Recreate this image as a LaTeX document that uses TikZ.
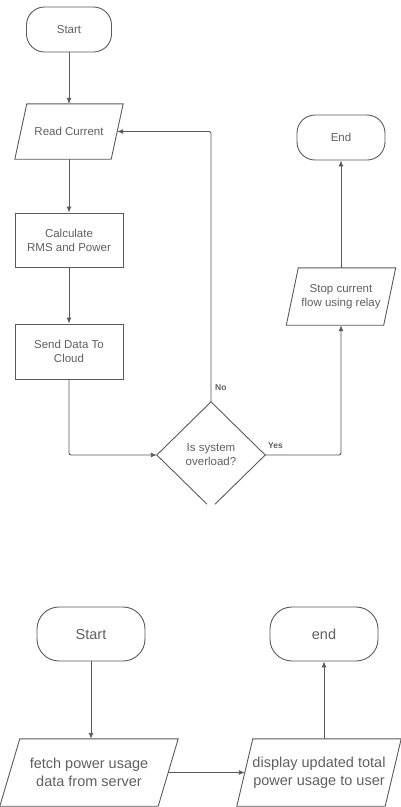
\documentclass[tikz,border=0pt]{standalone}
\usepackage{fontspec}
\setmainfont{Liberation Sans}
\usetikzlibrary{arrows.meta,shapes.geometric}
\definecolor{ink}{HTML}{5A5A5A}
\definecolor{txt}{HTML}{606060}
\begin{document}
\begin{tikzpicture}[x=1pt,y=-1pt,
  line/.style={draw=ink,line width=0.9pt},
  flow/.style={line,-{Latex[length=6pt,width=5pt]},rounded corners=2pt},
  upper/.style={font=\fontsize{11.5}{14}\selectfont,text=txt,align=center,inner sep=0pt},
  lower/.style={font=\fontsize{14.5}{18}\selectfont,text=txt,align=center,inner sep=0pt},
  terminal/.style={line,rectangle,rounded corners=18pt},
  procbox/.style={line,rectangle,minimum width=108pt},
  body/.style={rectangle,draw=none},
  tag/.style={font=\fontsize{8.5}{10}\bfseries\selectfont,text=txt,inner sep=0pt}]
\useasboundingbox[fill=white] (0,0) rectangle (400,807);

% ---- monitoring loop ----
\node[upper,terminal,minimum width=85pt,minimum height=45pt] (start) at (69,29.5) {Start};
\node[upper,body,minimum width=96pt,minimum height=55pt] (read) at (69,131.5) {Read Current};
\node[upper,procbox,minimum height=54pt] (calc) at (69,240) {Calculate\\RMS and Power};
\node[upper,procbox,minimum height=55pt] (send) at (69,351.5) {Send Data To\\Cloud};
\node[upper,diamond,draw=none,minimum width=108pt,minimum height=106pt] (dec) at (211,455) {Is system\\overload?};
\node[upper,body,minimum width=97pt,minimum height=57pt] (stop) at (341,296.5) {Stop current\\flow using relay};
\node[upper,terminal,minimum width=88pt,minimum height=45pt] (end) at (341,137.5) {End};

% slanted input/output outlines
\draw[line] ([xshift=6pt]read.north west) -- ([xshift=6pt]read.north east)
  -- ([xshift=-6pt]read.south east) -- ([xshift=-6pt]read.south west) -- cycle;
\draw[line] ([xshift=6pt]stop.north west) -- ([xshift=6pt]stop.north east)
  -- ([xshift=-6pt]stop.south east) -- ([xshift=-6pt]stop.south west) -- cycle;
% decision outline, open at the bottom tip
\draw[line] ([xshift=-4pt,yshift=4pt]dec.south) -- (dec.west) -- (dec.north)
  -- (dec.east) -- ([xshift=4pt,yshift=4pt]dec.south);

\draw[flow] (start) -- (read);
\draw[flow] (read) -- (calc);
\draw[flow] (calc) -- (send);
\draw[flow] (send.south) |- (dec.west);
\draw[flow] (dec.north) |- (read.east);
\draw[flow] (dec.east) -| (stop.south);
\draw[flow] (stop.north) -- (end.south);
\node[tag,anchor=west] (no) at (215,388) {No};
\node[tag,anchor=west] (yes) at (268,446) {Yes};

% ---- usage report ----
\node[lower,terminal,rounded corners=22pt,minimum width=108pt,minimum height=54pt] (s2) at (91,634) {Start};
\node[lower,terminal,rounded corners=22pt,minimum width=108pt,minimum height=54pt] (e2) at (324,634) {end};
\node[lower,body,minimum width=158pt,minimum height=67pt] (fetch) at (89,772.5) {fetch power usage\\data from server};
\node[lower,body,minimum width=148pt,minimum height=67pt] (disp) at (319,772.5) {display updated total\\power usage to user};
\draw[line] ([xshift=10pt]fetch.north west) -- ([xshift=10pt]fetch.north east)
  -- ([xshift=-10pt]fetch.south east) -- ([xshift=-10pt]fetch.south west) -- cycle;
\draw[line] ([xshift=8pt]disp.north west) -- ([xshift=8pt]disp.north east)
  -- ([xshift=-8pt]disp.south east) -- ([xshift=-8pt]disp.south west) -- cycle;

\draw[flow] (s2.south) -- (s2.south |- fetch.north);
\draw[flow] (fetch.east) -- (disp.west);
\draw[flow] (e2.south |- disp.north) -- (e2.south);
\end{tikzpicture}
\end{document}
